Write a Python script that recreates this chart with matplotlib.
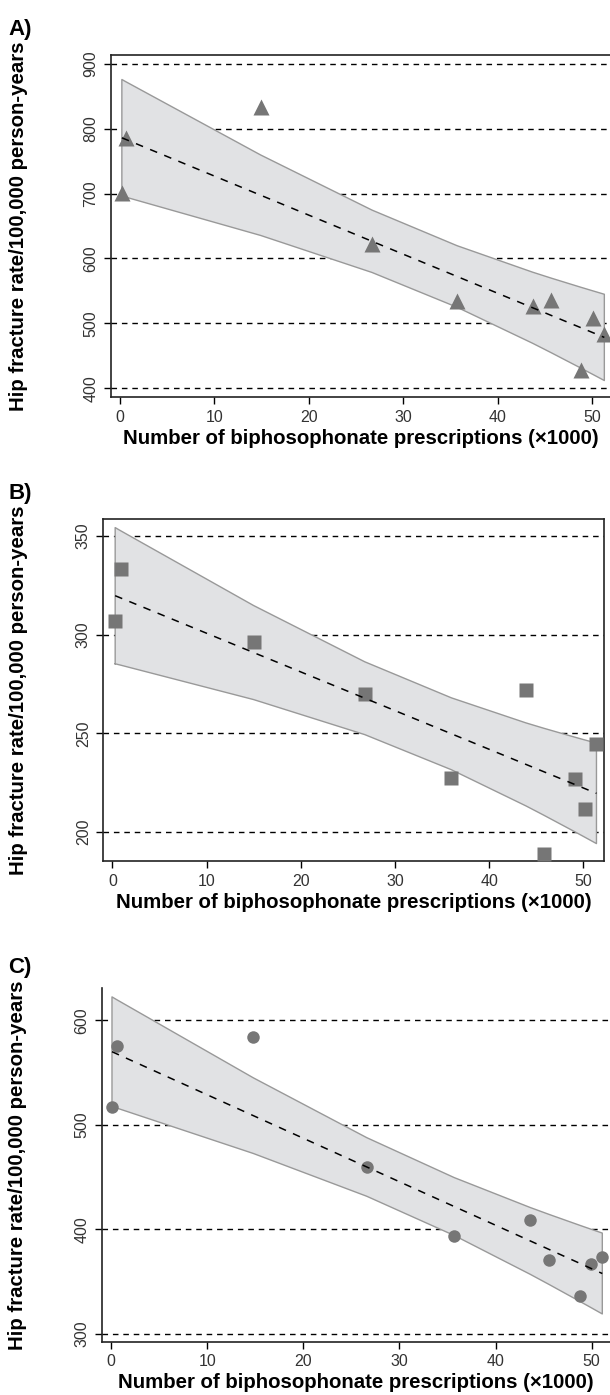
import numpy as np
import matplotlib
matplotlib.use("Agg")
import matplotlib.pyplot as plt

plt.rcParams['font.family'] = ['Liberation Sans', 'DejaVu Sans']

# prescriptions (x1000) per year, read per panel
presc_a = [0.2, 0.6, 14.9, 26.7, 35.7, 43.7, 45.7, 48.8, 50.1, 51.3]
presc_b = [0.3, 0.9, 15.0, 26.8, 36.0, 43.9, 45.8, 49.1, 50.2, 51.4]
presc_c = [0.1, 0.6, 14.8, 26.6, 35.7, 43.6, 45.6, 48.8, 49.9, 51.1]

# hip fracture rate / 100,000 person-years
rate_a = [701, 785, 833, 622, 535, 526, 536, 428, 509, 484]
rate_b = [306.7, 333.1, 296.1, 269.7, 227.6, 271.9, 189.0, 227.0, 211.8, 244.5]
rate_c = [516.9, 575.5, 583.8, 459.2, 393.6, 409.0, 370.7, 335.7, 366.6, 373.2]

yticks_a = [400, 500, 600, 700, 800, 900]
yticks_b = [200, 250, 300, 350]
yticks_c = [300, 400, 500, 600]
xticks = [0, 10, 20, 30, 40, 50]

panel_labels = ['A)', 'B)', 'C)']
xlabel = 'Number of biphosophonate prescriptions (\u00d71000)'
ylabel = 'Hip fracture rate/100,000 person-years'

T_975_DF8 = 2.306  # t quantile for 95% CI, 10 points

W, H = 610, 1395
fig = plt.figure(figsize=(W / 100, H / 100), dpi=100)


def px_axes(left, right, top, bottom):
    return fig.add_axes([left / W, 1 - bottom / H, (right - left) / W, (bottom - top) / H])


def fit_band(x, y):
    x = np.asarray(x, float)
    y = np.asarray(y, float)
    b, a = np.polyfit(x, y, 1)
    n = len(x)
    resid = y - (a + b * x)
    s = np.sqrt(np.sum(resid ** 2) / (n - 2))
    xs = np.sort(x)
    sxx = np.sum((x - x.mean()) ** 2)
    se = s * np.sqrt(1 / n + (xs - x.mean()) ** 2 / sxx)
    fit = a + b * xs
    return xs, fit, fit - T_975_DF8 * se, fit + T_975_DF8 * se


def draw_panel(ax, x, y, marker, ms, yticks, xlim, ylim, spines, left_px, right_px):
    xs, fit, lo, hi = fit_band(x, y)
    for t in yticks:
        ax.axhline(t, color='black', lw=1.0, ls=(0, (4, 3.5)), zorder=1)
    ax.fill_between(xs, lo, hi, facecolor='#e1e2e4', edgecolor='none', zorder=2)
    ax.plot(np.r_[xs, xs[::-1], xs[0]], np.r_[lo, hi[::-1], lo[0]],
            color='#999999', lw=1.0, zorder=2.5)
    ax.plot(x, y, ls='none', marker=marker, ms=ms, color='#767676', mec='none', zorder=3)
    ax.plot(xs, fit, color='black', lw=1.1, ls=(0, (5, 5)), zorder=4)
    ax.set_xlim(*xlim)
    ax.set_ylim(*ylim)
    ax.set_xticks(xticks)
    ax.set_yticks(yticks)
    ax.tick_params(direction='out', length=5, width=1, colors='black', labelcolor='#333333',
                   labelsize=11.5, pad=4)
    for lab in ax.get_yticklabels():
        lab.set_rotation(90)
        lab.set_va('center')
    for side in ['top', 'right', 'left', 'bottom']:
        ax.spines[side].set_visible(side in spines)
        ax.spines[side].set_linewidth(1.2)
        ax.spines[side].set_color('#222222')
    ax.set_xlabel(xlabel, fontsize=14.7, fontweight='bold', labelpad=3)
    ax.set_ylabel(ylabel, fontsize=14.7, fontweight='bold', va='center')
    ax.yaxis.set_label_coords((18 - left_px) / (right_px - left_px), 0.5)
    ax.patch.set_alpha(0)


ax_a = px_axes(111, 610, 55, 397.3)
draw_panel(ax_a, presc_a, rate_a, '^', 11, yticks_a, (-0.95, 51.9), (386.1, 913.4),
           ['top', 'left', 'bottom'], 111, 610)

ax_b = px_axes(103.3, 604, 519.3, 861)
draw_panel(ax_b, presc_b, rate_b, 's', 9.5, yticks_b, (-0.96, 52.2), (185.3, 358.5),
           ['top', 'right', 'left', 'bottom'], 103.3, 604)

ax_c = px_axes(101.7, 610, 988.3, 1341.7)
draw_panel(ax_c, presc_c, rate_c, 'o', 9, yticks_c, (-0.97, 51.9), (292.3, 630.6),
           ['left', 'bottom'], 101.7, 610)

for lab, ypx in zip(panel_labels, [30, 493, 968]):
    fig.text(8 / W, 1 - ypx / H, lab, fontsize=16, fontweight='bold', va='center', ha='left')

fig.savefig('out.png', dpi=100)
